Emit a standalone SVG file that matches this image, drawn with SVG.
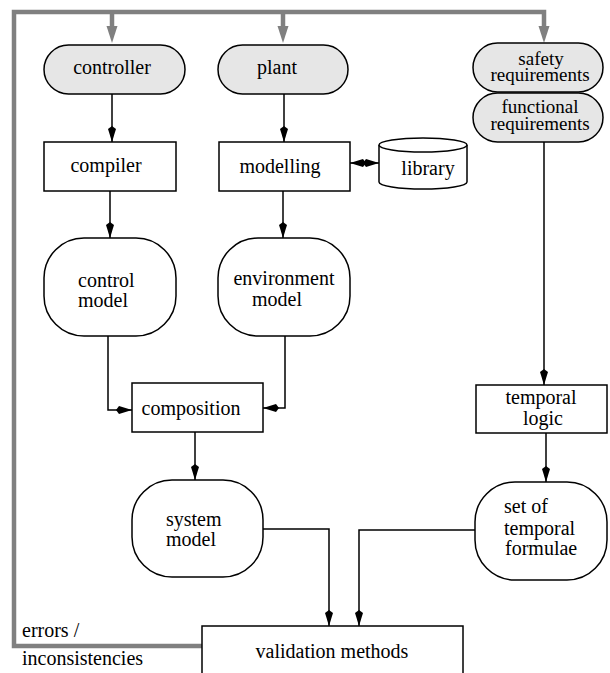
<svg xmlns="http://www.w3.org/2000/svg" width="610" height="673" viewBox="0 0 610 673">
<style>
text{font-family:'Liberation Serif','Times New Roman',Times,serif;font-size:20px;fill:#000}
.m{text-anchor:middle}
.s{font-size:19px}
.n{fill:#fff;stroke:#000;stroke-width:1.5}
.g{fill:#e6e6e6;stroke:#000;stroke-width:1.5}
.c{fill:none;stroke:#000;stroke-width:1.5}
.f{fill:none;stroke:#808080;stroke-width:4.5;stroke-linejoin:miter}
.fa{fill:#808080;stroke:none}
</style>
<defs>
<marker id="ah" markerUnits="userSpaceOnUse" viewBox="0 0 16 10" markerWidth="16" markerHeight="10" refX="16" refY="5" orient="auto-start-reverse">
<path d="M16,5 L3,1 L0,5 L3,9 Z" fill="#000"/>
</marker>
</defs>
<rect width="610" height="673" fill="#fff"/>

<g id="feedback">
<path class="f" d="M203,646 H14 V12 H544 V28"/>
<path class="f" d="M112,12 V28"/>
<path class="f" d="M283,12 V28"/>
<polygon class="fa" points="106.5,26 117.5,26 112,43"/>
<polygon class="fa" points="277.5,26 288.5,26 283,43"/>
<polygon class="fa" points="538.5,26 549.5,26 544,43"/>
<text font-family="Liberation Serif, serif" x="22" y="637">errors /</text>
<text font-family="Liberation Serif, serif" x="22" y="665">inconsistencies</text>
</g>

<g id="connectors">
<path class="c" d="M112,94 V142" marker-end="url(#ah)"/>
<path class="c" d="M110,191 V238" marker-end="url(#ah)"/>
<path class="c" d="M284,94 V142" marker-end="url(#ah)"/>
<path class="c" d="M283,191 V238" marker-end="url(#ah)"/>
<path class="c" d="M350,163 H379" marker-start="url(#ah)" marker-end="url(#ah)"/>
<path class="c" d="M108,336 V410 H132" marker-end="url(#ah)"/>
<path class="c" d="M285,336 V408 H263" marker-end="url(#ah)"/>
<path class="c" d="M195,432 V480" marker-end="url(#ah)"/>
<path class="c" d="M544,142 V385" marker-end="url(#ah)"/>
<path class="c" d="M546,433 V482" marker-end="url(#ah)"/>
<path class="c" d="M263,529 H329 V626" marker-end="url(#ah)"/>
<path class="c" d="M475,530 H359 V626" marker-end="url(#ah)"/>
</g>

<g id="controller">
<rect class="g" x="44" y="45" width="141" height="49" rx="24.5"/>
<text class="m" x="112" y="74">controller</text>
</g>
<g id="plant">
<rect class="g" x="218" y="45" width="130" height="49" rx="24.5"/>
<text class="m" x="277" y="74">plant</text>
</g>
<g id="safety">
<rect class="g" x="473" y="43" width="130" height="49" rx="24.5"/>
<text class="m s" x="541" y="65">safety</text>
<text class="m s" x="540" y="81">requirements</text>
</g>
<g id="functional">
<rect class="g" x="473" y="93" width="130" height="49" rx="24.5"/>
<text class="m s" x="540" y="113">functional</text>
<text class="m s" x="540" y="129.5">requirements</text>
</g>
<g id="compiler">
<rect class="n" x="44" y="142" width="132" height="49"/>
<text class="m" x="106" y="172">compiler</text>
</g>
<g id="modelling">
<rect class="n" x="219" y="142" width="131" height="49"/>
<text class="m" x="280" y="173">modelling</text>
</g>
<g id="library">
<path class="n" d="M379,145 V182 A44,7 0 0 0 467,182 V145"/>
<ellipse class="n" cx="423" cy="145" rx="44" ry="7"/>
<text class="m" x="428" y="175">library</text>
</g>
<g id="control-model">
<rect class="n" x="44" y="238" width="132" height="98" rx="40" ry="40"/>
<text x="78" y="287">control</text>
<text x="78" y="307">model</text>
</g>
<g id="environment-model">
<rect class="n" x="218" y="238" width="132" height="98" rx="40" ry="40"/>
<text class="m" x="284" y="285">environment</text>
<text class="m" x="277" y="306">model</text>
</g>
<g id="composition">
<rect class="n" x="132" y="383" width="131" height="49"/>
<text class="m" x="191" y="415">composition</text>
</g>
<g id="temporal-logic">
<rect class="n" x="476" y="385" width="131" height="48"/>
<text class="m" x="541" y="404">temporal</text>
<text class="m" x="543" y="425">logic</text>
</g>
<g id="system-model">
<rect class="n" x="132" y="480" width="131" height="97" rx="40" ry="40"/>
<text x="166" y="526">system</text>
<text x="166" y="546">model</text>
</g>
<g id="temporal-formulae">
<rect class="n" x="475" y="482" width="132" height="98" rx="40" ry="40"/>
<text x="504" y="513">set of</text>
<text x="504" y="535">temporal</text>
<text x="505" y="555">formulae</text>
</g>
<g id="validation">
<rect class="n" x="202" y="626" width="261" height="60"/>
<text class="m" x="332" y="658">validation methods</text>
</g>
</svg>
